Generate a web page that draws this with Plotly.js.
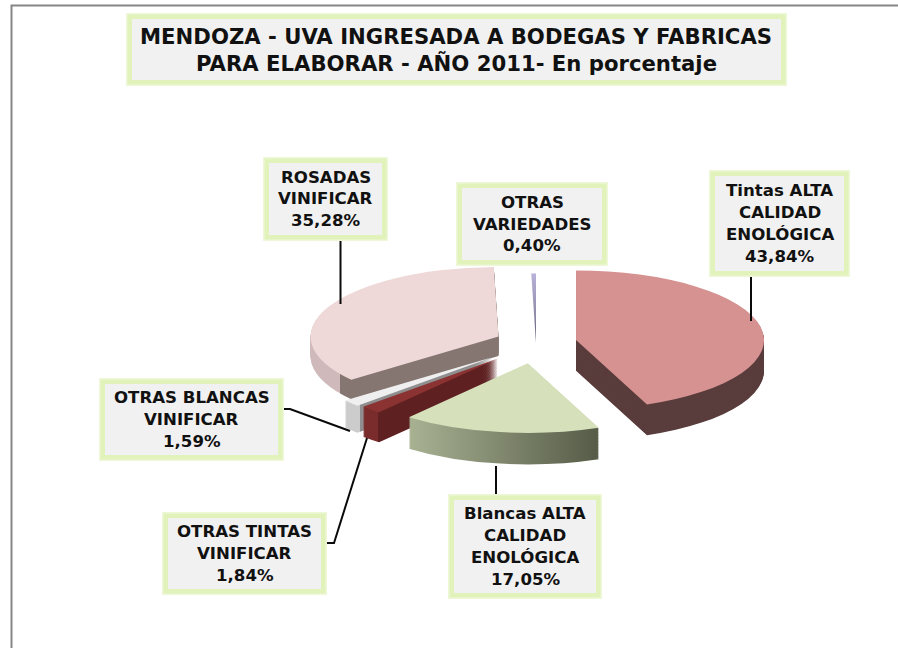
<!DOCTYPE html>
<html><head><meta charset="utf-8">
<script src="https://cdn.plot.ly/plotly-3.0.1.min.js"></script>
<style>html,body{margin:0;padding:0;background:#fff}#c{width:898px;height:648px}</style>
</head><body><div id="c"></div>
<script>
// ---- data
var categories = ["Tintas ALTA|CALIDAD|ENOLÓGICA","Blancas ALTA|CALIDAD|ENOLÓGICA","OTRAS TINTAS|VINIFICAR","OTRAS BLANCAS|VINIFICAR","ROSADAS|VINIFICAR","OTRAS|VARIEDADES"];
var values = [43.84,17.05,1.84,1.59,35.28,0.40];
var titleLines = ["MENDOZA - UVA INGRESADA A BODEGAS Y FABRICAS","PARA ELABORAR - AÑO 2011- En porcentaje"];
// ---- style
var pulls = [0.217,0.295,0.30,0.31,0.22,0];
var topColors = ["#d69291","#d6e0bb","#8b3333","#efefef","#eed9d8","#a9a2c7"];
var wallColors = ["#5a3d3d","#7d836a","#5e2020","#8f8f8f","#857672","#6a6a80"];
var wallDepths = [31,32,30,27,20,0];
var wallStops = [
  null,
  [[0,"#a8b293"],[1,"#565b47"]],
  [[0,"#7a2b2b"],[0.11,"#7a2b2b"],[0.11,"#5e2020"],[1,"#5e2020"]],
  [[0,"#cccccc"],[0.10,"#cccccc"],[0.10,"#8f8f8f"],[1,"#8f8f8f"]],
  [[0,"#d0b9ba"],[0.157,"#d0b9ba"],[0.157,"#857672"],[1,"#857672"]],
  null
];
var W=898,H=648, CX=536, CY=343, SQUASH=0.37, R=188, STEP=0.75, NL=44;
var HALF=R*(1+Math.max.apply(null,pulls)), BASEY=HALF+2;
var boxes = [[715,176,844,271],[454,500,596,593],[168,518,321,589],[105,384,278,455],[269,163,382,235],[462,188,602,260]];
var titleBox=[132,19,781,80];
var leaders = [
  [[751,271],[751,321]],
  [[496,466],[496,500]],
  [[321,543],[334,543],[367,438]],
  [[278,409],[290,409],[350,431]],
  [[340.5,235],[340.5,304]]
];
function px(x){return x/W} function py(y){return 1-y/H}
function fmt(v){return v.toFixed(2).replace('.',',')+'%'}

var data=[];
for(var k=NL-1;k>=0;k--){
  var off=k*STEP/SQUASH;
  var colors=values.map(function(v,i){
    if(k===0) return topColors[i];
    return k*STEP<=wallDepths[i]?wallColors[i]:'rgba(0,0,0,0)';
  });
  data.push({type:'pie',values:values,labels:categories.map(function(c){return c.split('|').join(' ')}),sort:false,direction:'clockwise',rotation:0,
    pull:pulls,textinfo:'none',showlegend:false,hoverinfo:k===0?'label+percent':'skip',
    marker:{colors:colors,line:{width:0}},
    domain:{x:[px(CX-HALF),px(CX+HALF)],y:[py(BASEY+off+HALF),py(BASEY+off-HALF)]}});
}
function glow(b,pad,col){return {type:'rect',xref:'paper',yref:'paper',x0:px(b[0]-pad),x1:px(b[2]+pad),y0:py(b[3]+pad),y1:py(b[1]-pad),fillcolor:col,line:{width:0},layer:'above'}}
var shapes=[];
leaders.forEach(function(l){
  var p=l.map(function(q,i){return (i?'L':'M')+px(q[0])+','+py(q[1])}).join(' ');
  shapes.push({type:'path',xref:'paper',yref:'paper',path:p,line:{color:'#0a0a0a',width:2},layer:'above'});
});
boxes.concat([titleBox]).forEach(function(b){
  shapes.push(glow(b,6,'#eef8d9'));shapes.push(glow(b,4.5,'#e1f2bb'));shapes.push(glow(b,0,'#f1f1f1'));
});
shapes.push({type:'path',xref:'paper',yref:'paper',path:'M'+px(11.5)+','+py(648)+' L'+px(11.5)+','+py(5.5)+' L'+px(898)+','+py(5.5),line:{color:'#868686',width:2},layer:'above'});
var ann=[];
function addLines(lines,cx,cy,pitch,size){
  lines.forEach(function(t,j){
    ann.push({xref:'paper',yref:'paper',x:px(cx),y:py(cy+(j-(lines.length-1)/2)*pitch),xanchor:'center',yanchor:'middle',showarrow:false,
      text:t,font:{family:'DejaVu Sans',size:size,color:'#111',weight:'bold'}});
  });
}
categories.forEach(function(c,i){
  var b=boxes[i];
  addLines(c.split('|').concat([fmt(values[i])]),(b[0]+b[2])/2,(b[1]+b[3])/2,21.7,16.6);
});
addLines(titleLines,(titleBox[0]+titleBox[2])/2,50,26.6,21.2);
var layout={width:W,height:H,margin:{l:0,r:0,t:0,b:0,pad:0},paper_bgcolor:'#fff',plot_bgcolor:'#fff',showlegend:false,shapes:shapes,annotations:ann};
Plotly.newPlot('c',data,layout,{displayModeBar:false,responsive:false}).then(function(gd){
  var svg=gd.querySelector('.main-svg');
  var defs=svg.querySelector('defs');
  var NS='http://www.w3.org/2000/svg';
  function grad(id,st,vertical){
    var g=document.createElementNS(NS,'linearGradient');g.setAttribute('id',id);
    if(vertical){g.setAttribute('x2','0');g.setAttribute('y2','1');}
    st.forEach(function(s){var e=document.createElementNS(NS,'stop');e.setAttribute('offset',s[0]);e.setAttribute('stop-color',s[1]);g.appendChild(e);});
    defs.appendChild(g);
  }
  wallStops.forEach(function(st,i){ if(st) grad('wall'+i,st,false); });
  grad('sliver',[[0,'#b9b2da'],[0.6,'#8f8aa8'],[1,'#55556a']],true);
  var layer=gd.querySelector('.pielayer');
  layer.setAttribute('transform','translate(0,'+CY+') scale(1,'+SQUASH+') translate(0,'+(-BASEY)+')');
  layer.querySelectorAll('.trace').forEach(function(t,ti){
    var k=NL-1-ti;
    t.querySelectorAll('.slice').forEach(function(s,i){
      var p=s.querySelector('path.surface'); if(!p) return;
      if(k===0){ if(i===5) p.style.fill='url(#sliver)'; return; }
      if(wallStops[i] && k*STEP<=wallDepths[i]) p.style.fill='url(#wall'+i+')';
    });
  });
});
</script></body></html>
